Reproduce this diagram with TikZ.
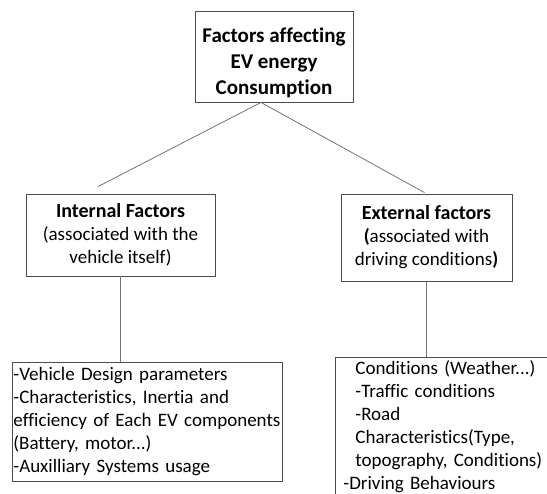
\documentclass[tikz,border=0pt]{standalone}
\usepackage{fontspec}
\setmainfont{Carlito}[Ligatures=NoCommon]
\usetikzlibrary{positioning}

\begin{document}
\begin{tikzpicture}[
x=1pt, y=-1pt,
box/.style={rectangle, draw=black!70, line width=0.9pt, align=center, inner sep=2pt, font=\fontsize{19}{23}\selectfont},
listbox/.style={box, align=left, inner xsep=1pt, inner ysep=3pt},
link/.style={draw=black!55, line width=0.8pt}
]
\clip (0,0) rectangle (547,494);

\node[box, font=\bfseries\fontsize{21}{26}\selectfont, minimum width=158pt, minimum height=91pt] (ev_factors) at (274,56.5) {\rule{0pt}{28pt}Factors affecting\\EV energy\\Consumption};
\node[box, minimum width=189pt, minimum height=82pt] (ev_internal) at (120.5,235) {{\bfseries\fontsize{20}{23}\selectfont Internal Factors}\\(associated with the\\vehicle itself)};
\node[box, minimum width=171pt, minimum height=87pt] (ev_external) at (426.5,237.5) {{\bfseries\fontsize{20}{23}\selectfont External factors}\\{\bfseries(}associated with\\driving conditions{\bfseries)}};
\node[listbox, anchor=north west, text width=268pt, minimum height=119pt] (ev_inlist) at (12,362) {-Vehicle Design parameters\\-Characteristics, Inertia and\\efficiency of Each EV components\\(Battery, motor...)\\-Auxilliary Systems usage};
\node[listbox, anchor=north west, text width=260pt, inner xsep=20pt] (ev_exlist) at (335,357) {Conditions (Weather...)\\-Traffic conditions\\-Road\\Characteristics(Type,\\topography, Conditions)\\\hspace*{-12pt}-Driving Behaviours\\\mbox{}};

\draw[link] ([xshift=-13pt]ev_factors.south) -- ([xshift=-22.5pt, yshift=7pt]ev_internal.north);
\draw[link] ([xshift=-13pt]ev_factors.south) -- ([xshift=-2pt, yshift=1pt]ev_external.north);
\draw[link] (ev_internal.south) -- (ev_internal.south |- ev_inlist.north);
\draw[link] (ev_external.south) -- (ev_external.south |- ev_exlist.north);

\end{tikzpicture}
\end{document}
